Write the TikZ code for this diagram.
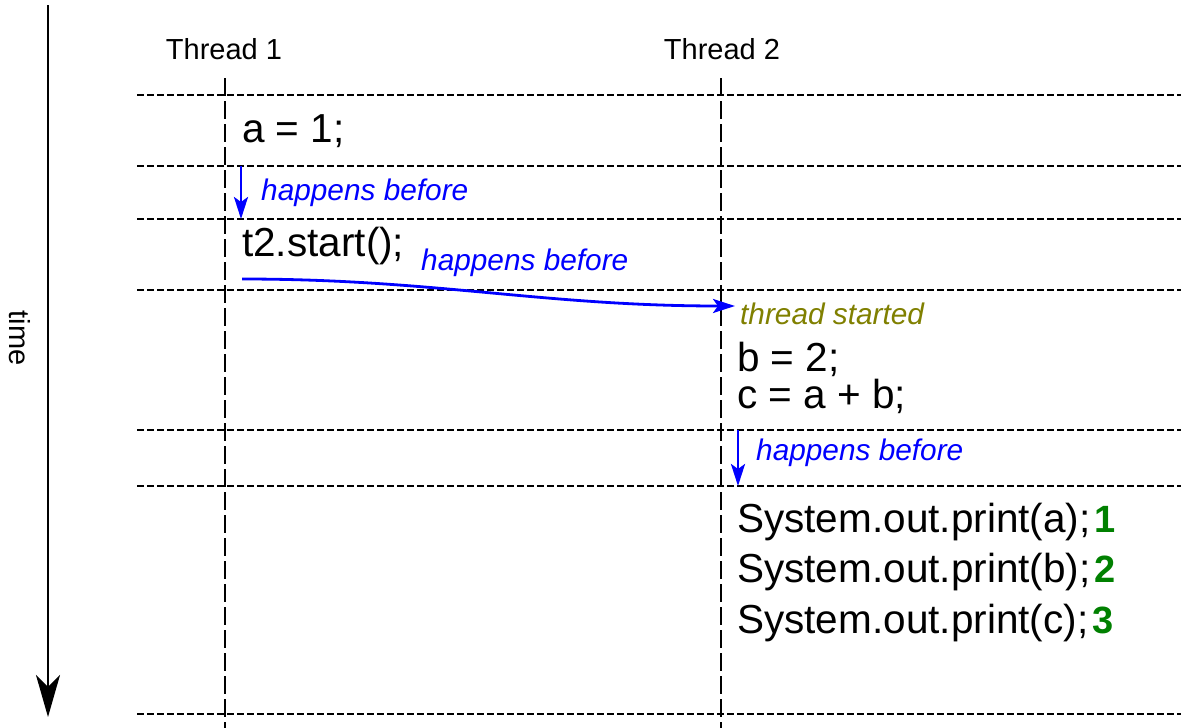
\documentclass[tikz,border=0pt]{standalone}
\usepackage{fontspec}
\setmainfont{Liberation Sans}
\usetikzlibrary{arrows.meta}
\definecolor{hbblue}{RGB}{0,0,255}
\definecolor{startolive}{RGB}{128,128,0}
\definecolor{valgreen}{RGB}{0,128,0}
\begin{document}
\begin{tikzpicture}[x=1pt,y=-1pt,
  lbl/.style={font=\fontsize{29}{34}\selectfont, inner sep=0pt},
  code/.style={font=\fontsize{40.5}{46}\selectfont, inner sep=0pt, anchor=base west},
  note/.style={font=\fontsize{29.8}{34}\selectfont\itshape, inner sep=0pt, anchor=base west},
  slot/.style={line width=2.2pt, dash pattern=on 7pt off 3pt},
  lifeline/.style={line width=2.2pt, dash pattern=on 18pt off 5pt},
  hb/.style={hbblue, line width=2.8pt, -{Stealth[length=22pt,width=14pt,inset=5pt]}},
  timeaxis/.style={line width=2.4pt, -{Stealth[length=42pt,width=24pt,inset=12pt]}},
  val/.style={text=valgreen, font=\fontsize{38}{44}\selectfont\bfseries, inner sep=0pt, anchor=base west},
]
\useasboundingbox[fill=white] (0,0) rectangle (1181,728);

% time axis
\coordinate (tTop) at (48,5);
\coordinate (tBot) at (48,717);
\draw[timeaxis] (tTop) -- (tBot);
\node[lbl, rotate=-90] (timeLbl) at (20,338) {time};

% time slots
\foreach \y/\n in {95/s1,166/s2,219/s3,290/s4,430/s5,486/s6,714/s7}{
  \coordinate (\n w) at (137,\y);
  \coordinate (\n e) at (1181,\y);
  \draw[slot] (\n w) -- (\n e);
}

% thread lifelines
\node[lbl, anchor=base] (th1) at (224,59) {Thread 1};
\node[lbl, anchor=base] (th2) at (722,59) {Thread 2};
\coordinate (l1top) at (225,78);
\coordinate (l1bot) at (225,728);
\coordinate (l2top) at (721,78);
\coordinate (l2bot) at (721,728);
\draw[lifeline] (l1top) -- (l1bot);
\draw[lifeline] (l2top) -- (l2bot);

% thread 1 statements
\node[code] (a1) at (242,142) {a = 1;};
\node[code] (start) at (242,256) {t2.start();};

% thread 2 statements
\node[note, text=startolive] (started) at (740,324) {thread started};
\node[code] (b2) at (737,371) {b = 2;};
\node[code] (cab) at (737,408) {c = a + b;};
\node[code] (pa) at (737,532) {System.out.print(a);};
\node[code] (pb) at (737,582) {System.out.print(b);};
\node[code] (pc) at (737,633) {System.out.print(c);};
\node[val] (va) at ([xshift=3.5pt]pa.base east) {1};
\node[val] (vb) at ([xshift=3.5pt]pb.base east) {2};
\node[val] (vc) at ([xshift=3.5pt]pc.base east) {3};

% happens-before edges
\coordinate (hb1s) at (241,166);
\coordinate (hb1e) at (241,219);
\draw[hb] (hb1s) -- (hb1e);
\node[note, text=hbblue] (hb1) at (261,200) {happens before};

\coordinate (hb2s) at (242,279);
\coordinate (hb2e) at (735,306);
\draw[hb] (hb2s) to[out=0,in=180] (hb2e);
\node[note, text=hbblue] (hb2) at (421,270) {happens before};

\coordinate (hb3s) at (738,430);
\coordinate (hb3e) at (738,486);
\draw[hb] (hb3s) -- (hb3e);
\node[note, text=hbblue] (hb3) at (756,460) {happens before};
\end{tikzpicture}
\end{document}
